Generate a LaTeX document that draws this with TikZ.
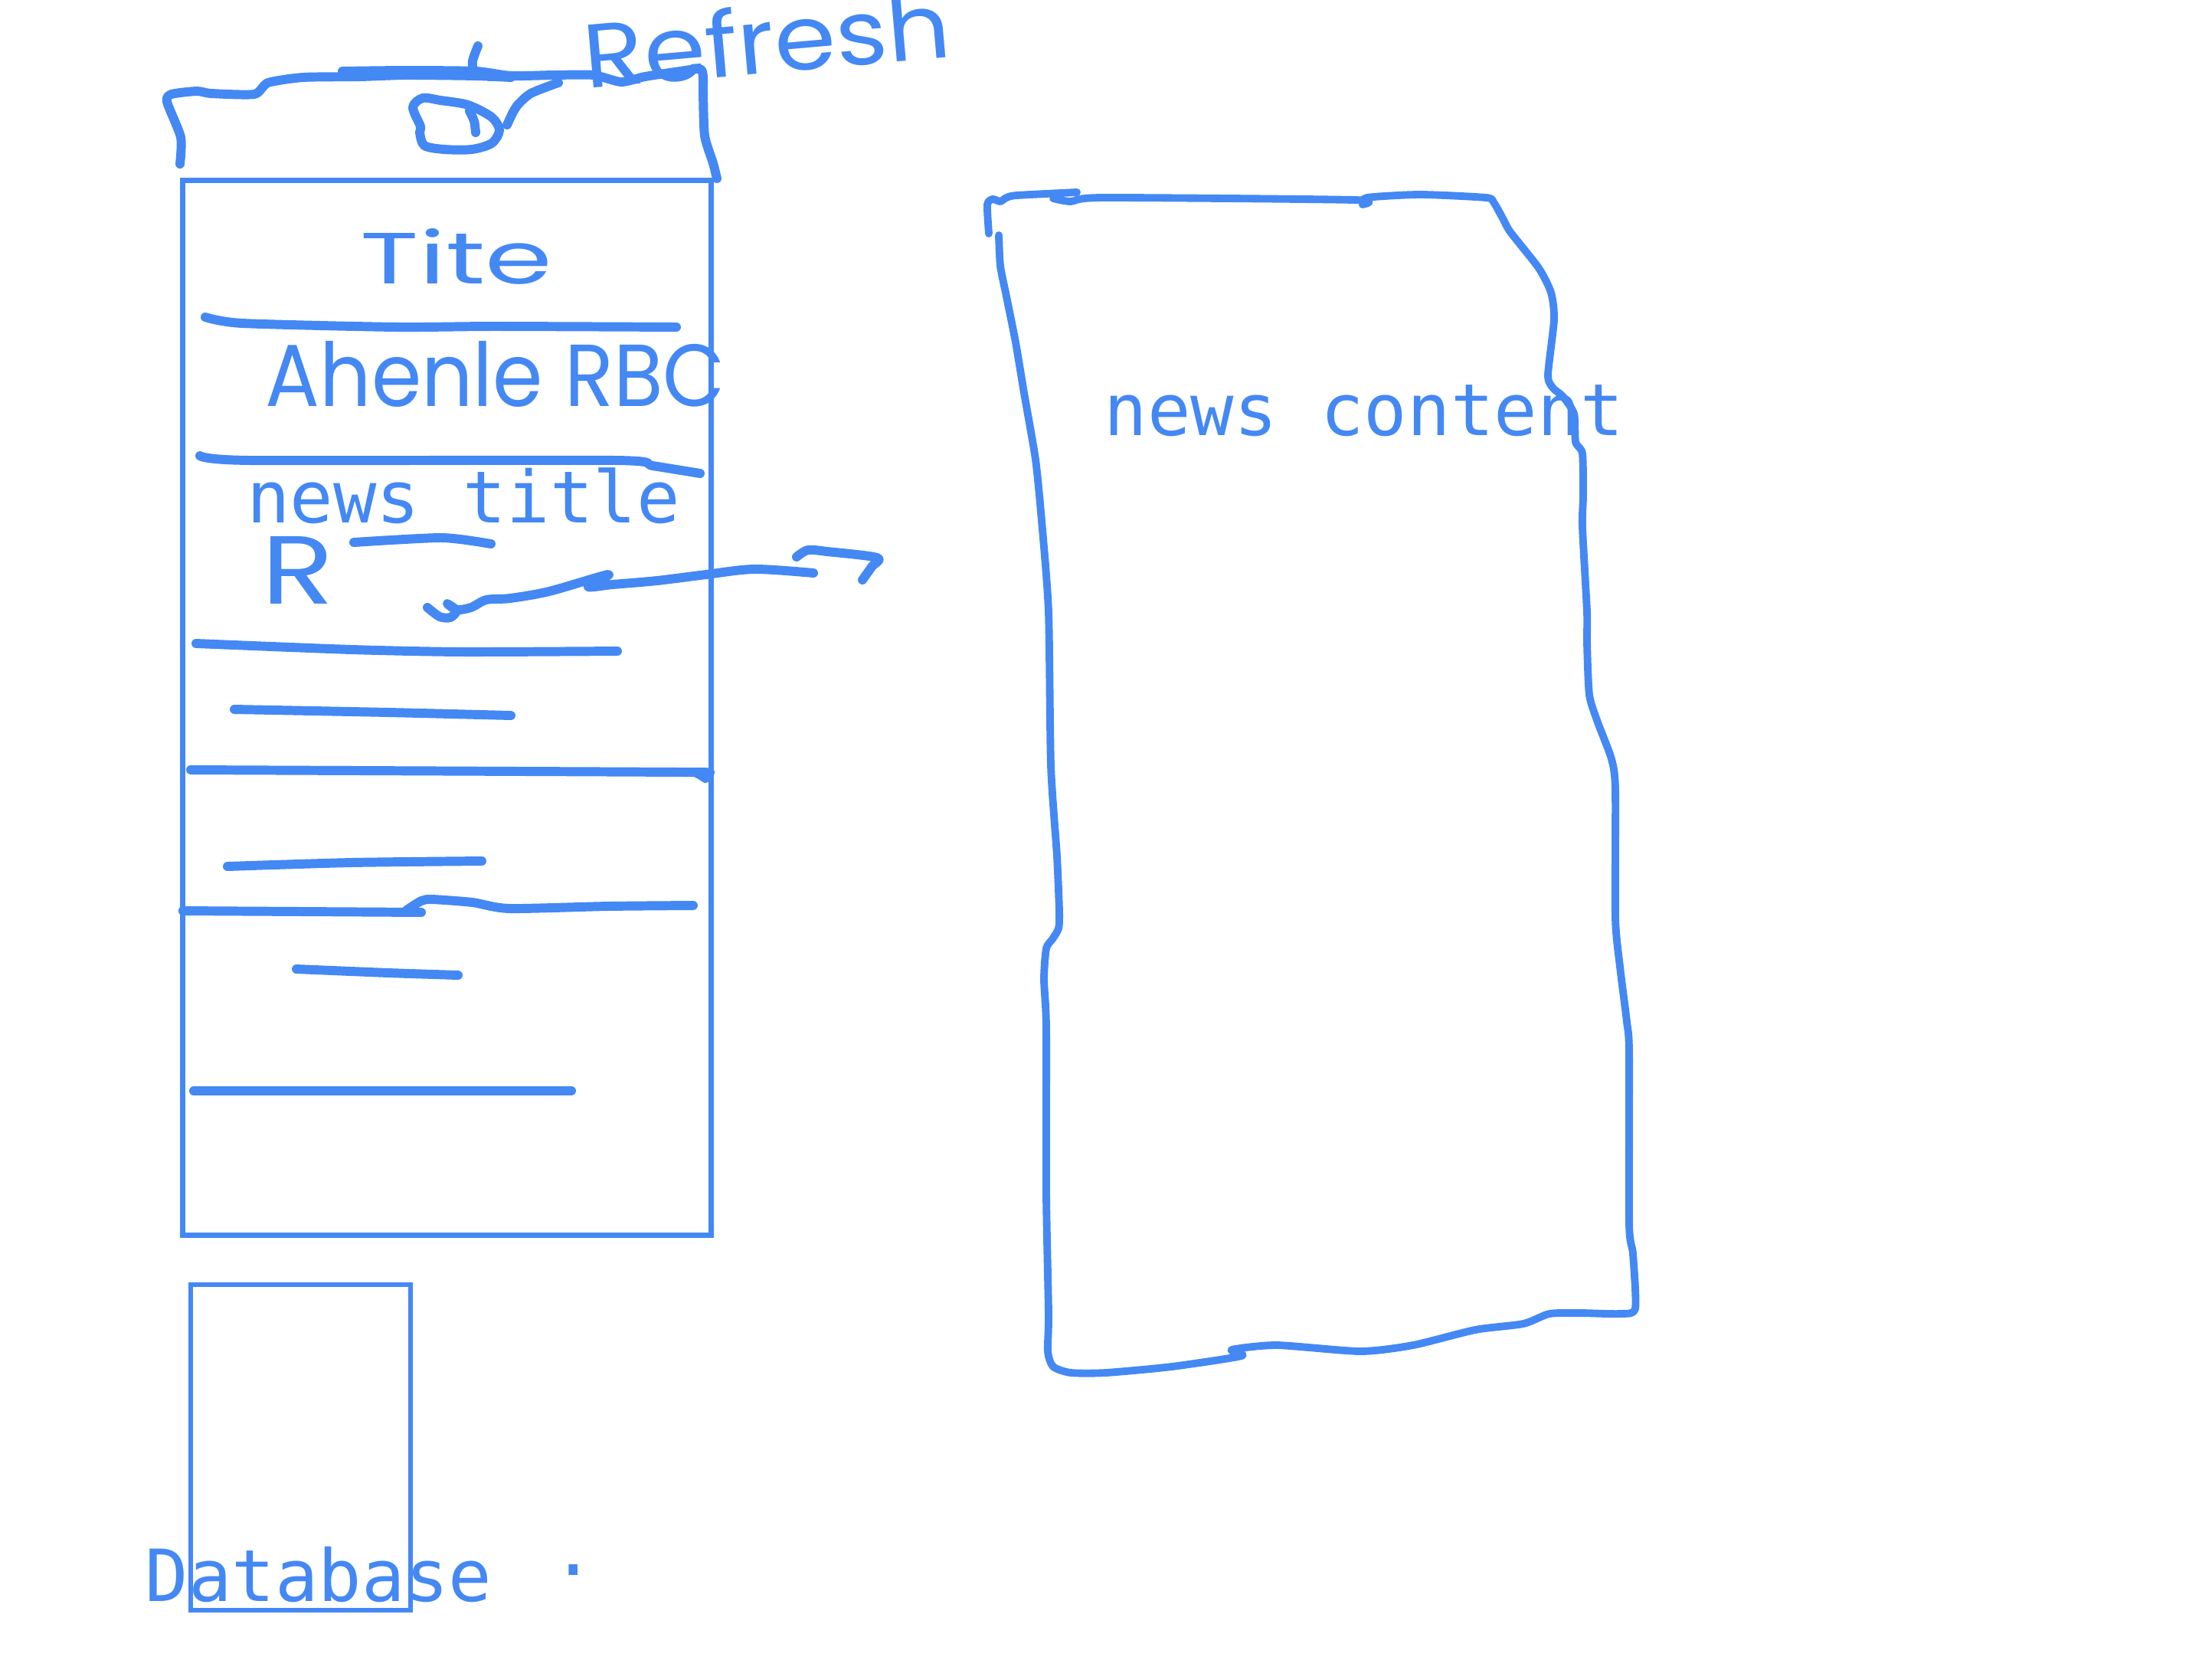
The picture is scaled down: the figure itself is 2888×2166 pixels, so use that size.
\documentclass[tikz,border=0pt]{standalone}
\usepackage{fontspec}
\usepackage{graphicx}
\newfontfamily\monof{DejaVu Sans Mono}
\newfontfamily\handf{Poppins}
\definecolor{pen}{RGB}{68,136,244}
\newcommand\hwtext[3]{\resizebox{#1}{#2}{\handf #3}}
\begin{document}
\begin{tikzpicture}[x=0.01cm,y=-0.01cm,
  frame/.style={draw=pen,line width=1.9pt,inner sep=0pt,outer sep=0pt},
  stroke/.style={draw=pen,line width=3.4pt,line cap=round,line join=round},
  thin stroke/.style={draw=pen,line width=2.8pt,line cap=round,line join=round},
  mono/.style={text=pen,inner sep=0pt,anchor=base,font=\monof\fontsize{26.7}{30}\selectfont},
  hand/.style={text=pen,inner sep=0pt,anchor=base}]
\useasboundingbox[fill=white] (0,0) rectangle (2888,2166);

% phone frame and database box
\node[frame,minimum width=6.89cm,minimum height=13.76cm] (phone) at (583.5,924) {};
\node[frame,minimum width=2.87cm,minimum height=4.25cm] (db) at (392.5,1889.5) {};

% header tab
\draw[stroke] plot[smooth,tension=0.4] coordinates {(235,214) (236,179) (218,133) (224,123) (257,119) (276,122) (332,123) (350,108) (396,101) (470,100) (530,98) (621,99) (667,101)};
\draw[stroke] plot[smooth,tension=0.4] coordinates {(447,93) (530,92) (621,93) (667,99) (724,98) (775,98) (811,107) (842,100) (888,93) (914,90) (918,100) (918,120) (920,177) (931,213) (936,233)};
% refresh icon
\draw[stroke] plot[smooth cycle,tension=0.5] coordinates {(549,165) (539,140) (552,128) (575,131) (611,137) (642,153) (652,170) (642,187) (616,195) (580,195) (554,190) (548,173)};
\draw[stroke] plot[smooth,tension=0.5] coordinates {(613,145) (619,158) (621,173)};
\draw[stroke] plot[smooth,tension=0.5] coordinates {(662,163) (670,146) (675,138) (693,122) (729,108)};
\draw[stroke] plot[smooth,tension=0.5] coordinates {(624,60) (617,80) (620,93) (640,100)};

% handwritten labels
\node[hand,rotate=5] (refresh) at (1005,95) {\hwtext{4.8cm}{0.9cm}{Refresh}};
\node[hand] (tite) at (596,370) {\hwtext{2.5cm}{0.72cm}{Tite}};
\node[hand] (ahenle) at (647,530) {\hwtext{6.0cm}{0.85cm}{Ahenle RBC}};
\node[hand] (rmark) at (389,788) {\hwtext{0.95cm}{0.88cm}{R}};

% divider lines in the list
\draw[stroke] plot[smooth,tension=0.4] coordinates {(268,414) (316,422) (517,427) (646,426) (883,427)};
\draw[stroke] plot[smooth,tension=0.4] coordinates {(261,595) (326,601) (804,601) (852,608) (914,618)};
\node[mono] (newstitle) at (605,682) {news title};
\draw[stroke] plot[smooth,tension=0.4] coordinates {(462,708) (577,702) (641,710)};
\draw[stroke] plot[smooth,tension=0.4] coordinates {(256,840) (459,848) (603,851) (806,850)};
\draw[stroke] plot[smooth,tension=0.4] coordinates {(306,926) (507,930) (667,934)};
\draw[stroke] plot[smooth,tension=0.4] coordinates {(249,1005) (890,1008) (909,1009) (921,1016)};
\draw[stroke] plot[smooth,tension=0.4] coordinates {(297,1131) (459,1126) (629,1124)};
\draw[stroke] (phone.west |- 0,1189) -- (550,1191);
\draw[stroke] plot[smooth,tension=0.4] coordinates {(531,1188) (550,1176) (564,1174) (617,1178) (665,1186) (794,1183) (905,1182)};
\draw[stroke] plot[smooth,tension=0.4] coordinates {(387,1265) (507,1270) (598,1273)};
\draw[stroke] (253,1424) -- (746,1424);

% squiggly arrow to the news content panel
\coordinate (arrstart) at (558,793);
\coordinate (arrend) at (1062,748);
\draw[stroke] plot[smooth,tension=0.5] coordinates {(arrstart) (574,805) (588,806) (596,797) (584,788) (596,796) (615,793) (635,783) (666,781) (717,772) (794,750) (768,766) (800,763) (858,758) (922,750) (985,743) (arrend)};
\draw[stroke] plot[smooth,tension=0.5] coordinates {(1040,727) (1055,718) (1080,720) (1145,728) (1138,740) (1126,757)};

% news content panel
\draw[thin stroke] plot[smooth,tension=0.4] coordinates {(1291,305) (1289,267) (1296,260) (1306,263) (1314,258) (1328,255) (1406,251)};
\draw[thin stroke] plot[smooth,tension=0.4] coordinates {(1375,259) (1398,263) (1441,258) (1768,261) (1779,267) (1785,258) (1854,254) (1940,258) (1950,264) (1962,285) (1972,303) (2009,350) (2025,382) (2029,417) (2021,490) (2028,507) (2040,517) (2055,540) (2057,577) (2066,592) (2067,647) (2066,688) (2072,799) (2072,839) (2075,907) (2086,943) (2104,991) (2109,1031) (2109,1198) (2115,1262) (2124,1334) (2127,1374) (2127,1597) (2132,1637) (2135,1708) (2115,1715) (2063,1714) (2023,1715) (1989,1728) (1926,1736) (1845,1756) (1776,1764) (1667,1756) (1608,1762) (1621,1770) (1530,1784) (1444,1792) (1398,1792) (1375,1784) (1368,1764) (1369,1716) (1366,1557) (1366,1342) (1363,1278) (1366,1238) (1374,1226) (1382,1212) (1383,1190) (1380,1118) (1372,999) (1369,799) (1360,680) (1352,600) (1337,513) (1326,447) (1314,387) (1306,347) (1304,307)};
\node[mono] (newscontent) at (1781,568) {news content};

% database label
\node[mono] (dblabel) at (416,2090) {Database};
\node[mono] (dot) at (749,2056) {.};
\end{tikzpicture}
\end{document}
